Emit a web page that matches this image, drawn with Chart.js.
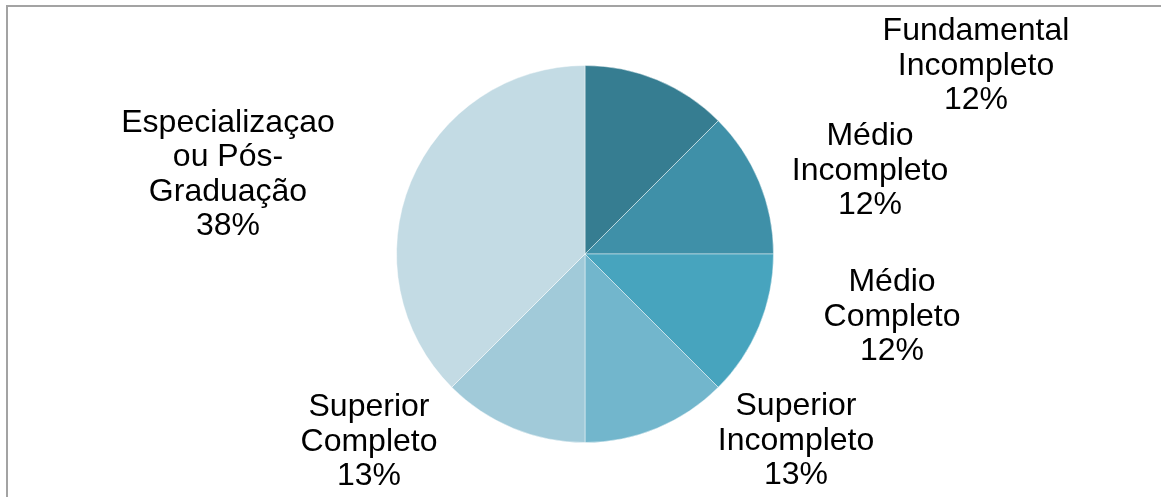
<!DOCTYPE html>
<html>
<head>
<meta charset="utf-8">
<script src="https://cdn.jsdelivr.net/npm/chart.js@4.4.1/dist/chart.umd.min.js"></script>
<style>
  html, body { margin: 0; padding: 0; background: #fff; overflow: hidden; }
  #frame { position: absolute; left: 6px; top: 5px; width: 1200px; height: 600px; border: 2px solid #a3a3a3; }
  #wrap { position: absolute; left: 0; top: 0; width: 1161px; height: 497px; }
</style>
</head>
<body>
<div id="frame"></div>
<div id="wrap"><canvas id="pieChart" width="1161" height="497"></canvas></div>
<script>
var categories = [
    ['Fundamental', 'Incompleto'],
    ['Médio', 'Incompleto'],
    ['Médio', 'Completo'],
    ['Superior', 'Incompleto'],
    ['Superior', 'Completo'],
    ['Especializaçao', 'ou Pós-', 'Graduação']
];
var shares = [12.5, 12.5, 12.5, 12.5, 12.5, 37.5];
var percentLabels = ['12%', '12%', '12%', '13%', '13%', '38%'];
var sliceColors = ['#367d91', '#3f90a8', '#47a4be', '#72b6cc', '#a1cad9', '#c3dbe4'];

// label block centres, relative to the pie centre (layout only)
var labelOffsets = [
    [391, -191],
    [285, -86],
    [307, 60],
    [211, 184],
    [-216, 185],
    [-357, -82]
];

var pieLabels = {
    id: 'pieLabels',
    afterDatasetsDraw: function(chart) {
        var ctx = chart.ctx;
        var arc = chart.getDatasetMeta(0).data[0];
        var cx = arc.x, cy = arc.y;
        var lineH = 34.5;
        ctx.save();
        ctx.font = '32px "Liberation Sans", Arial, sans-serif';
        ctx.fillStyle = '#000';
        ctx.textAlign = 'center';
        ctx.textBaseline = 'alphabetic';
        categories.forEach(function(lines, i) {
            var all = lines.concat([percentLabels[i]]);
            var top = cy + labelOffsets[i][1] - (all.length - 1) * lineH / 2;
            all.forEach(function(t, j) {
                // baseline sits about half a cap height below the line centre
                ctx.fillText(t, cx + labelOffsets[i][0], top + j * lineH + 11.5);
            });
        });
        ctx.restore();
    }
};

var ctxPie = document.getElementById('pieChart').getContext('2d');

var pieChart = new Chart(ctxPie, {
    type: 'pie',
    data: {
        labels: categories.map(function(c) { return c.join(' '); }),
        datasets: [{
            data: shares,
            backgroundColor: sliceColors,
            borderColor: 'rgba(255,255,255,0.45)',
            borderWidth: 1
        }]
    },
    options: {
        responsive: false,
        animation: false,
        layout: {
            padding: { left: 396, right: 387, top: 65, bottom: 54 }
        },
        plugins: {
            legend: { display: false },
            tooltip: { enabled: false }
        }
    },
    plugins: [pieLabels]
});
</script>
</body>
</html>
